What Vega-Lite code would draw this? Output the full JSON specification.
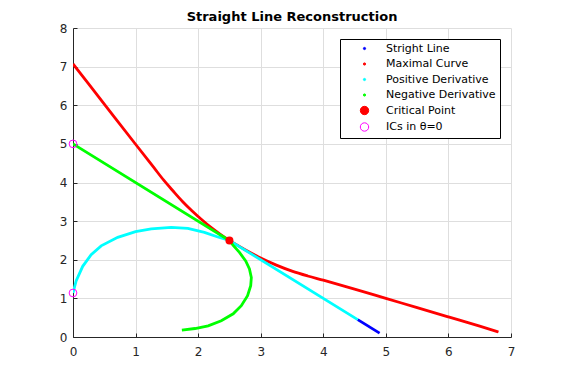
{
  "$schema": "https://vega.github.io/schema/vega-lite/v6.json",
  "width": 438,
  "height": 309,
  "autosize": "none",
  "padding": {"left": 73, "top": 28, "right": 54, "bottom": 43},
  "background": "white",
  "title": {"text": "Straight Line Reconstruction", "font": "DejaVu Sans", "fontSize": 13, "fontWeight": "bold", "color": "#000000", "anchor": "middle", "frame": "group", "offset": -2},
  "config": {
    "view": {"stroke": null},
    "axis": {
      "domainColor": "#262626", "tickColor": "#262626", "labelColor": "#262626",
      "gridColor": "#dedede", "gridWidth": 1, "tickSize": -4, "domainWidth": 1,
      "labelFont": "DejaVu Sans", "labelFontSize": 12, "title": null, "labelFlush": false
    }
  },
  "datasets": {
    "curves": [
      {"series": "Stright Line", "i": 1, "x": 4.55, "y": 0.45},
      {"series": "Stright Line", "i": 2, "x": 4.9, "y": 0.1},
      {"series": "Maximal Curve", "i": 1, "x": 0.0, "y": 7.07},
      {"series": "Maximal Curve", "i": 2, "x": 0.5, "y": 6.03},
      {"series": "Maximal Curve", "i": 3, "x": 1.0, "y": 4.99},
      {"series": "Maximal Curve", "i": 4, "x": 1.3, "y": 4.37},
      {"series": "Maximal Curve", "i": 5, "x": 1.45, "y": 4.06},
      {"series": "Maximal Curve", "i": 6, "x": 1.6, "y": 3.78},
      {"series": "Maximal Curve", "i": 7, "x": 1.75, "y": 3.51},
      {"series": "Maximal Curve", "i": 8, "x": 1.9, "y": 3.27},
      {"series": "Maximal Curve", "i": 9, "x": 2.05, "y": 3.05},
      {"series": "Maximal Curve", "i": 10, "x": 2.2, "y": 2.845},
      {"series": "Maximal Curve", "i": 11, "x": 2.35, "y": 2.665},
      {"series": "Maximal Curve", "i": 12, "x": 2.5, "y": 2.5},
      {"series": "Maximal Curve", "i": 13, "x": 2.75, "y": 2.26},
      {"series": "Maximal Curve", "i": 14, "x": 3.0, "y": 2.045},
      {"series": "Maximal Curve", "i": 15, "x": 3.25, "y": 1.86},
      {"series": "Maximal Curve", "i": 16, "x": 3.5, "y": 1.705},
      {"series": "Maximal Curve", "i": 17, "x": 3.75, "y": 1.58},
      {"series": "Maximal Curve", "i": 18, "x": 4.0, "y": 1.47},
      {"series": "Maximal Curve", "i": 19, "x": 4.5, "y": 1.24},
      {"series": "Maximal Curve", "i": 20, "x": 5.0, "y": 1.0},
      {"series": "Maximal Curve", "i": 21, "x": 5.5, "y": 0.76},
      {"series": "Maximal Curve", "i": 22, "x": 6.0, "y": 0.52},
      {"series": "Maximal Curve", "i": 23, "x": 6.5, "y": 0.28},
      {"series": "Maximal Curve", "i": 24, "x": 6.8, "y": 0.13},
      {"series": "Positive Derivative", "i": 1, "x": 0.0, "y": 1.14},
      {"series": "Positive Derivative", "i": 2, "x": 0.05, "y": 1.45},
      {"series": "Positive Derivative", "i": 3, "x": 0.155, "y": 1.83},
      {"series": "Positive Derivative", "i": 4, "x": 0.29, "y": 2.13},
      {"series": "Positive Derivative", "i": 5, "x": 0.45, "y": 2.36},
      {"series": "Positive Derivative", "i": 6, "x": 0.715, "y": 2.58},
      {"series": "Positive Derivative", "i": 7, "x": 1.0, "y": 2.73},
      {"series": "Positive Derivative", "i": 8, "x": 1.25, "y": 2.8},
      {"series": "Positive Derivative", "i": 9, "x": 1.57, "y": 2.84},
      {"series": "Positive Derivative", "i": 10, "x": 1.835, "y": 2.81},
      {"series": "Positive Derivative", "i": 11, "x": 2.1, "y": 2.71},
      {"series": "Positive Derivative", "i": 12, "x": 2.315, "y": 2.59},
      {"series": "Positive Derivative", "i": 13, "x": 2.5, "y": 2.5},
      {"series": "Positive Derivative", "i": 14, "x": 4.55, "y": 0.45},
      {"series": "Negative Derivative", "i": 1, "x": 0.0, "y": 5.0},
      {"series": "Negative Derivative", "i": 2, "x": 2.5, "y": 2.5},
      {"series": "Negative Derivative", "i": 3, "x": 2.56, "y": 2.37},
      {"series": "Negative Derivative", "i": 4, "x": 2.66, "y": 2.19},
      {"series": "Negative Derivative", "i": 5, "x": 2.76, "y": 1.97},
      {"series": "Negative Derivative", "i": 6, "x": 2.82, "y": 1.76},
      {"series": "Negative Derivative", "i": 7, "x": 2.85, "y": 1.54},
      {"series": "Negative Derivative", "i": 8, "x": 2.84, "y": 1.33},
      {"series": "Negative Derivative", "i": 9, "x": 2.79, "y": 1.07},
      {"series": "Negative Derivative", "i": 10, "x": 2.69, "y": 0.81},
      {"series": "Negative Derivative", "i": 11, "x": 2.56, "y": 0.6},
      {"series": "Negative Derivative", "i": 12, "x": 2.37, "y": 0.42},
      {"series": "Negative Derivative", "i": 13, "x": 2.16, "y": 0.29},
      {"series": "Negative Derivative", "i": 14, "x": 1.95, "y": 0.22},
      {"series": "Negative Derivative", "i": 15, "x": 1.74, "y": 0.18}
    ],
    "points": [
      {"series": "Critical Point", "x": 2.5, "y": 2.5},
      {"series": "ICs in θ=0", "x": 0.0, "y": 5.0},
      {"series": "ICs in θ=0", "x": 0.0, "y": 1.14}
    ]
  },
  "encoding": {
    "x": {"field": "x", "type": "quantitative", "scale": {"domain": [0, 7], "nice": false, "zero": false}, "axis": {"values": [0,1,2,3,4,5,6,7], "labelPadding": 13, "format": "d"}},
    "y": {"field": "y", "type": "quantitative", "scale": {"domain": [0, 8], "nice": false, "zero": false}, "axis": {"values": [0,1,2,3,4,5,6,7,8], "labelPadding": 10, "format": "d"}},
    "color": {
      "field": "series", "type": "nominal",
      "scale": {
        "domain": ["Stright Line", "Maximal Curve", "Positive Derivative", "Negative Derivative", "Critical Point", "ICs in θ=0"],
        "range": ["#0000ff", "#ff0000", "#00ffff", "#00ff00", "#ff0000", "#ff00ff"]
      },
      "legend": {
        "title": null, "orient": "top-right", "offset": 11,
        "symbolType": "circle", "labelFont": "DejaVu Sans", "labelFontSize": 11, "labelColor": "#000000",
        "strokeColor": "#000000", "fillColor": "#ffffff", "padding": 4, "rowPadding": 3.5,
        "symbolOffset": 15, "labelOffset": 16, "cornerRadius": 0,
        "encode": {"symbols": {"update": {
          "size": {"signal": "datum.value == 'Critical Point' || datum.value == 'ICs in θ=0' ? 70 : 5"},
          "fill": {"signal": "scale('color', datum.value)"},
          "fillOpacity": {"signal": "datum.value == 'ICs in θ=0' ? 0 : 1"},
          "stroke": {"signal": "datum.value == 'ICs in θ=0' ? '#ff00ff' : 'transparent'"},
          "strokeWidth": {"value": 1},
          "opacity": {"value": 1}
        }}}
      }
    }
  },
  "layer": [
    {
      "data": {"name": "curves"},
      "transform": [{"filter": "datum.series == 'Stright Line' || datum.series == 'Maximal Curve'"}],
      "mark": {"type": "line", "strokeWidth": 2.8, "clip": true, "interpolate": "monotone"},
      "encoding": {"order": {"field": "i", "type": "quantitative"}}
    },
    {
      "data": {"name": "curves"},
      "transform": [{"filter": "datum.series == 'Positive Derivative' || datum.series == 'Negative Derivative'"}],
      "mark": {"type": "line", "strokeWidth": 2.8, "clip": true},
      "encoding": {"order": {"field": "i", "type": "quantitative"}}
    },
    {
      "data": {"name": "points"},
      "transform": [{"filter": "datum.series == 'Critical Point'"}],
      "mark": {"type": "point", "filled": true, "size": 64, "opacity": 1}
    },
    {
      "data": {"name": "points"},
      "transform": [{"filter": "datum.series != 'Critical Point'"}],
      "mark": {"type": "point", "filled": false, "size": 60, "strokeWidth": 1, "opacity": 1}
    }
  ]
}
